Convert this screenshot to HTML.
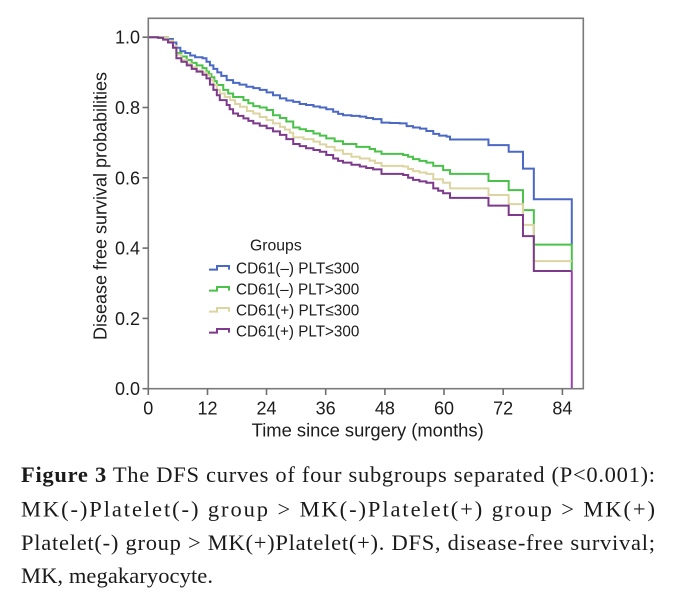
<!DOCTYPE html>
<html>
<head>
<meta charset="utf-8">
<style>
  html, body { margin: 0; padding: 0; background: #ffffff; }
  svg { display: block; }
  .ax { font-family: "Liberation Sans", Arial, sans-serif; fill: #1c1c1c; }
  .cap { font-family: "Liberation Serif", "Times New Roman", serif; fill: #1a1a1a; font-size: 22.5px; }
  .crv { fill: none; stroke-width: 2; vector-effect: non-scaling-stroke; stroke-linejoin: miter; }
</style>
</head>
<body>
<svg width="678" height="615" viewBox="0 0 678 615" xmlns="http://www.w3.org/2000/svg">
  <rect x="0" y="0" width="678" height="615" fill="#ffffff"/>

  <g transform="translate(148.3,388.7) scale(4.93,-351.5)">
    <path class="crv" stroke="#4a68c4" d="M0,1 H3 V1 H4 V.995 H5 V.985 H5.7 V.97 H6.5 V.96 H7.5 V.955 H8.5 V.948 H9.5 V.943 H11 V.94 H11.8 V.93 H12.5 V.92 H13.2 V.91 H14 V.9 H14.8 V.89 H15.9 V.878 H17.2 V.87 H18.5 V.865 H19.9 V.859 H21.3 V.855 H22.6 V.85 H24 V.843 H25.3 V.835 H26.7 V.826 H28 V.82 H29.4 V.816 H30.7 V.81 H32 V.807 H33.5 V.803 H34.8 V.8 H36.1 V.795 H37.5 V.788 H38.5 V.782 H39.5 V.778 H41.2 V.776 H42.9 V.774 H44.2 V.77 H45.6 V.767 H47.3 V.757 H49 V.756 H51 V.755 H52.4 V.747 H53.7 V.743 H55.1 V.74 H56.4 V.733 H57.8 V.725 H59 V.72 H60.5 V.717 H61.2 V.709 H69 V.693 H73.1 V.674 H76 V.626 H78.2 V.539 H85.9 V.41"/>
    <path class="crv" stroke="#4ac24a" d="M0,1 H3 V1 H4 V.99 H5 V.975 H5.7 V.955 H6.7 V.945 H7.8 V.935 H8.8 V.927 H9.8 V.92 H11 V.912 H11.8 V.902 H12.3 V.895 H12.8 V.886 H13.4 V.875 H13.9 V.864 H15.2 V.85 H16.2 V.84 H17.2 V.83 H19.3 V.821 H20.3 V.812 H21.3 V.804 H22.6 V.8 H24 V.793 H25.3 V.778 H26.7 V.77 H28 V.76 H29.4 V.743 H30.7 V.738 H32 V.733 H33.5 V.726 H34.8 V.72 H36.1 V.712 H37.8 V.704 H39.5 V.696 H42.2 V.688 H44.9 V.682 H46 V.675 H47.3 V.668 H51.7 V.665 H52.7 V.66 H53.7 V.653 H55 V.648 H56.4 V.643 H57.8 V.634 H59.8 V.622 H61.2 V.611 H69 V.591 H73.1 V.565 H76 V.508 H78.2 V.41 H85.9 V.335"/>
    <path class="crv" stroke="#dcd5a2" d="M0,1 H3 V1 H4 V.99 H5 V.975 H5.7 V.95 H6.7 V.935 H7.8 V.925 H8.8 V.915 H9.8 V.905 H11 V.9 H11.8 V.892 H12.5 V.878 H13.2 V.864 H13.9 V.85 H14.5 V.84 H15.5 V.83 H16.6 V.821 H17.6 V.81 H18.6 V.802 H20 V.79 H21.3 V.783 H22.6 V.773 H24 V.764 H25.3 V.755 H26.7 V.745 H27.7 V.737 H28.7 V.728 H29.4 V.715 H31.5 V.71 H33.5 V.703 H34.8 V.695 H36.1 V.688 H37.8 V.678 H39.5 V.668 H41.2 V.66 H42.9 V.655 H44.9 V.649 H46 V.642 H47.3 V.634 H51.7 V.632 H52.7 V.625 H53.7 V.619 H55 V.615 H56.4 V.611 H57.8 V.596 H59.8 V.586 H61.2 V.57 H69 V.551 H73.1 V.525 H76 V.466 H78.2 V.363 H85.9"/>
    <path class="crv" stroke="#7d3a8c" d="M0,1 H2 V.998 H3 V.993 H4 V.985 H5 V.97 H5.7 V.94 H6.7 V.93 H7.8 V.92 H8.8 V.91 H9.8 V.902 H11 V.893 H11.8 V.883 H12.5 V.865 H13.2 V.85 H13.9 V.835 H14.5 V.821 H15.9 V.807 H16.5 V.795 H17.2 V.783 H18.2 V.776 H19.3 V.769 H20.3 V.762 H21.3 V.755 H22.6 V.748 H24 V.741 H25.3 V.732 H26.7 V.722 H28 V.71 H29.4 V.696 H30.7 V.69 H32 V.684 H33.5 V.679 H34.8 V.674 H36.1 V.665 H37.5 V.655 H38.5 V.648 H39.5 V.643 H41.2 V.637 H42.9 V.632 H44.2 V.628 H45.6 V.624 H47.3 V.611 H51.7 V.608 H52.7 V.6 H53.7 V.594 H55 V.59 H56.4 V.586 H57.8 V.57 H58.8 V.563 H59.8 V.556 H61.2 V.543 H69 V.521 H73.1 V.494 H76 V.434 H78.2 V.335 H85.9"/>
    <path class="crv" stroke="#9a42ad" d="M85.9,.335 V0"/>
  </g>

  <rect x="148.3" y="18.3" width="435" height="370.4" fill="none" stroke="#7a7a7a" stroke-width="1.6"/>

  <g stroke="#6e6e6e" stroke-width="1.6">
    <line x1="142.5" y1="388.7" x2="148.3" y2="388.7"/>
    <line x1="142.5" y1="318.4" x2="148.3" y2="318.4"/>
    <line x1="142.5" y1="248.1" x2="148.3" y2="248.1"/>
    <line x1="142.5" y1="177.8" x2="148.3" y2="177.8"/>
    <line x1="142.5" y1="107.5" x2="148.3" y2="107.5"/>
    <line x1="142.5" y1="37.2" x2="148.3" y2="37.2"/>
    <line x1="148.3" y1="388.7" x2="148.3" y2="395"/>
    <line x1="207.5" y1="388.7" x2="207.5" y2="395"/>
    <line x1="266.5" y1="388.7" x2="266.5" y2="395"/>
    <line x1="325.7" y1="388.7" x2="325.7" y2="395"/>
    <line x1="384.9" y1="388.7" x2="384.9" y2="395"/>
    <line x1="444" y1="388.7" x2="444" y2="395"/>
    <line x1="503.2" y1="388.7" x2="503.2" y2="395"/>
    <line x1="562.4" y1="388.7" x2="562.4" y2="395"/>
  </g>

  <g class="ax" font-size="18" text-anchor="end">
    <text x="140" y="395.2">0.0</text>
    <text x="140" y="324.9">0.2</text>
    <text x="140" y="254.6">0.4</text>
    <text x="140" y="184.3">0.6</text>
    <text x="140" y="114">0.8</text>
    <text x="140" y="43.7">1.0</text>
  </g>

  <g class="ax" font-size="18" text-anchor="middle">
    <text x="148.3" y="414.3">0</text>
    <text x="207.5" y="414.3">12</text>
    <text x="266.5" y="414.3">24</text>
    <text x="325.7" y="414.3">36</text>
    <text x="384.9" y="414.3">48</text>
    <text x="444" y="414.3">60</text>
    <text x="503.2" y="414.3">72</text>
    <text x="562.4" y="414.3">84</text>
  </g>

  <text class="ax" font-size="18" x="251.7" y="436.7" textLength="232" lengthAdjust="spacingAndGlyphs">Time since surgery (months)</text>
  <text class="ax" font-size="18" transform="translate(106.5,206) rotate(-90)" x="-134" y="0" textLength="268" lengthAdjust="spacingAndGlyphs">Disease free survival probabilities</text>

  <text class="ax" font-size="16" x="250" y="250.5" textLength="51.7" lengthAdjust="spacingAndGlyphs">Groups</text>
  <g fill="none" stroke-width="2">
    <path d="M209,269.6 H217 V266 H229 V269.6" stroke="#4a68c4"/>
    <path d="M209,290.6 H217 V287 H229 V290.6" stroke="#4ac24a"/>
    <path d="M209,311.6 H217 V308 H229 V311.6" stroke="#dcd5a2"/>
    <path d="M209,332.6 H217 V329 H229 V332.6" stroke="#7d3a8c"/>
  </g>
  <g class="ax" font-size="16">
    <text x="236" y="273.3" textLength="123.3" lengthAdjust="spacingAndGlyphs">CD61(–) PLT≤300</text>
    <text x="236" y="294.3" textLength="123.3" lengthAdjust="spacingAndGlyphs">CD61(–) PLT&gt;300</text>
    <text x="236" y="315.3" textLength="123.3" lengthAdjust="spacingAndGlyphs">CD61(+) PLT≤300</text>
    <text x="236" y="336.3" textLength="123.3" lengthAdjust="spacingAndGlyphs">CD61(+) PLT&gt;300</text>
  </g>

  <text class="cap" x="21" y="482" textLength="634" lengthAdjust="spacing"><tspan font-weight="bold">Figure 3</tspan> The DFS curves of four subgroups separated (P&lt;0.001):</text>
  <text class="cap" x="21" y="516.5" textLength="634" lengthAdjust="spacing">MK(-)Platelet(-) group &gt; MK(-)Platelet(+) group &gt; MK(+)</text>
  <text class="cap" x="21" y="550" textLength="634" lengthAdjust="spacing">Platelet(-) group &gt; MK(+)Platelet(+). DFS, disease-free survival;</text>
  <text class="cap" x="21" y="583" textLength="192" lengthAdjust="spacing">MK, megakaryocyte.</text>
</svg>
</body>
</html>
